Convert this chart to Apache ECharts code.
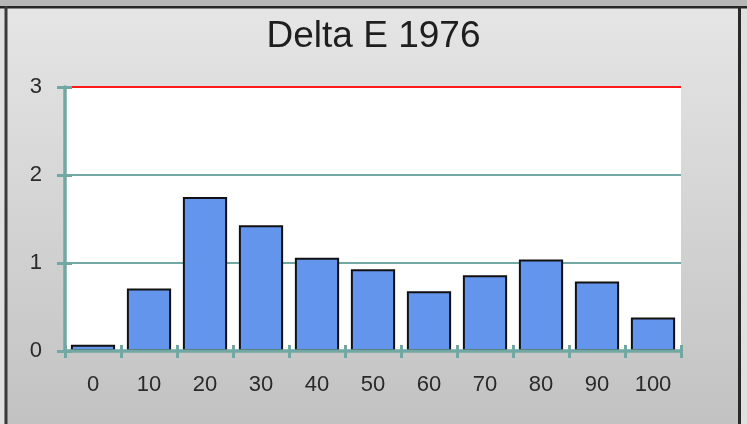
<!DOCTYPE html>
<html>
<head>
<meta charset="utf-8">
<script src="https://cdn.jsdelivr.net/npm/echarts@6/dist/echarts.min.js"></script>
<style>
html,body{margin:0;padding:0;background:#e4e4e4;}
#chart{width:747px;height:424px;}
</style>
</head>
<body>
<div id="chart"></div>
<script>
const titleText = 'Delta E 1976';
const categories = ['0','10','20','30','40','50','60','70','80','90','100'];
const deltaE = [0.07, 0.71, 1.75, 1.43, 1.06, 0.93, 0.68, 0.86, 1.04, 0.79, 0.38];
const yMin = 0, yMax = 3, yStep = 1;

const teal = '#72a8a4';
const font = 'Liberation Sans, Arial, sans-serif';
const chart = echarts.init(document.getElementById('chart'));

const yBase = {
  type: 'value', min: yMin, max: yMax, interval: yStep, position: 'left'
};
const xBase = {
  type: 'category', data: categories, position: 'bottom', boundaryGap: true
};

chart.setOption({
  animation: false,
  backgroundColor: {
    type: 'linear', x: 0, y: 0, x2: 0, y2: 1,
    colorStops: [{offset: 0, color: '#e6e6e6'}, {offset: 1, color: '#c2c2c2'}]
  },
  graphic: [
    {type: 'rect', shape: {x: 0, y: 0, width: 747, height: 7}, style: {fill: '#b6b6b6'}, z: 10},
    {type: 'rect', shape: {x: 0, y: 6, width: 747, height: 2.5}, style: {fill: '#262626'}, z: 11},
    {type: 'rect', shape: {x: 4.5, y: 6, width: 3, height: 418}, style: {fill: '#3a3a3a'}, z: 11},
    {type: 'rect', shape: {x: 738, y: 6, width: 3, height: 418}, style: {fill: '#2a2a2a'}, z: 11},
    {type: 'rect', shape: {x: 741, y: 8, width: 6, height: 416}, style: {fill: '#e0e0e0'}, z: 10},
    {type: 'rect', shape: {x: 0, y: 8, width: 4.5, height: 416}, style: {fill: '#e0e0e0'}, z: 10}
  ],
  title: {
    text: titleText, left: 'center', top: 13,
    textStyle: {fontFamily: font, fontSize: 37, fontWeight: 'normal', color: '#1e1e1e'}
  },
  grid: {
    left: 65, top: 87, width: 616, height: 264,
    show: true, backgroundColor: '#ffffff', borderWidth: 0
  },
  xAxis: [
    Object.assign({}, xBase, {
      axisLine: {lineStyle: {color: teal, width: 3.5}},
      axisTick: {show: true, length: 7, lineStyle: {color: teal, width: 3}},
      axisLabel: {color: '#2a2a2a', fontFamily: font, fontSize: 22, margin: 23},
      splitLine: {show: false}, z: 5
    }),
    Object.assign({}, xBase, {
      axisLine: {show: false},
      axisTick: {show: true, inside: true, length: 6, lineStyle: {color: teal, width: 3}},
      axisLabel: {show: false},
      splitLine: {show: false}, z: 5
    })
  ],
  yAxis: [
    Object.assign({}, yBase, {
      axisLine: {show: true, lineStyle: {color: teal, width: 3.5}},
      axisTick: {show: true, length: 8, lineStyle: {color: teal, width: 3}},
      axisLabel: {color: '#2a2a2a', fontFamily: font, fontSize: 22, margin: 23},
      splitLine: {show: false},
      z: 5
    }),
    Object.assign({}, yBase, {
      axisLine: {show: false},
      axisTick: {show: true, inside: true, length: 7, lineStyle: {color: teal, width: 3}},
      axisLabel: {show: false},
      splitLine: {show: true, lineStyle: {color: [teal, teal, teal, '#ff1a1a'], width: 2}},
      z: 1
    })
  ],
  series: [{
    type: 'bar',
    data: deltaE,
    xAxisIndex: 0, yAxisIndex: 0,
    barCategoryGap: '21%',
    itemStyle: {color: '#6495ed', borderColor: '#111', borderWidth: 2},
    z: 3
  }]
});
</script>
</body>
</html>
